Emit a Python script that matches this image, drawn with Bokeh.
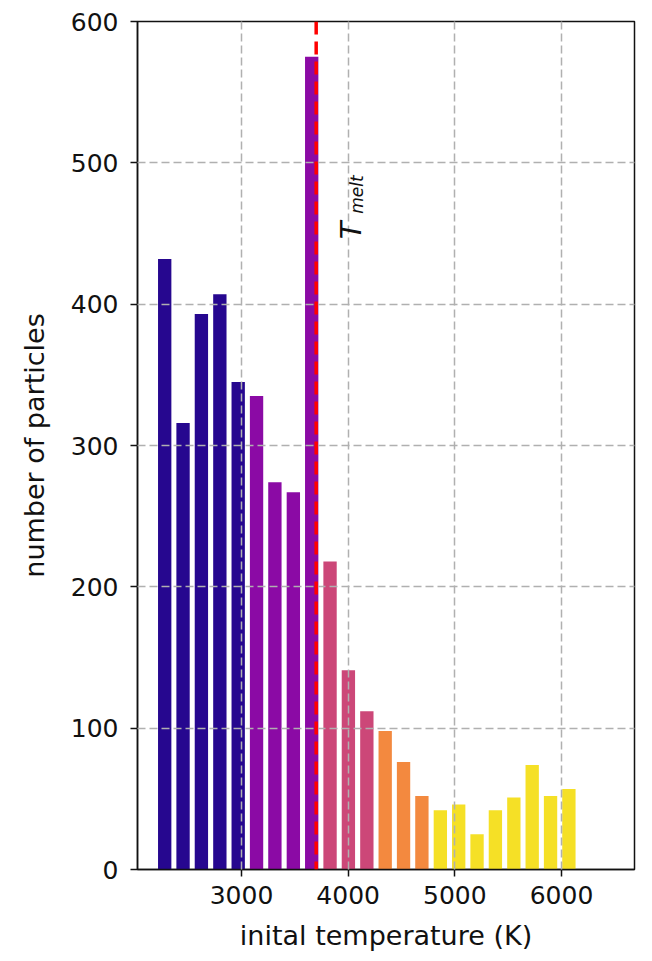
import math
from bokeh.plotting import figure
from bokeh.models import Span, Label, FixedTicker, ColumnDataSource, Range1d
from bokeh.embed import file_html
from bokeh.resources import INLINE

# ---- data ----
bin_centers = [2280, 2452, 2624, 2797, 2969, 3141, 3313, 3486, 3658, 3830, 4002, 4175,
               4347, 4519, 4691, 4864, 5036, 5208, 5380, 5553, 5725, 5897, 6069]
counts = [432, 316, 393, 407, 345, 335, 274, 267, 575, 218, 141, 112,
          98, 76, 52, 42, 46, 25, 42, 51, 74, 52, 57]
color_group = [0, 0, 0, 0, 0, 1, 1, 1, 1, 2, 2, 2, 3, 3, 3, 4, 4, 4, 4, 4, 4, 4, 4]
palette = ["#26078f", "#8b0aa5", "#cc4778", "#f3893f", "#f5e026"]
x_ticks = [3000, 4000, 5000, 6000]
y_ticks = [0, 100, 200, 300, 400, 500, 600]
t_melt = 3700

src = ColumnDataSource(dict(x=bin_centers, top=counts,
                            color=[palette[g] for g in color_group]))

p = figure(width=644, height=953, output_backend="svg", toolbar_location=None,
           x_range=Range1d(2025, 6684), y_range=Range1d(0, 600),
           min_border_left=137, min_border_right=10, min_border_top=21,
           min_border_bottom=83)

p.vbar(x="x", top="top", bottom=0, width=125, fill_color="color",
       line_color=None, source=src)

# grid
p.grid.level = "guide"
p.grid.grid_line_color = "#b0b0b0"
p.grid.grid_line_width = 1.5
p.grid.grid_line_dash = "8 4"

# axes
p.xaxis.ticker = FixedTicker(ticks=x_ticks)
p.yaxis.ticker = FixedTicker(ticks=y_ticks)
for ax in (p.xaxis[0], p.yaxis[0]):
    ax.axis_line_color = "#111111"
    ax.axis_line_width = 1.5
    ax.major_tick_line_color = "#111111"
    ax.major_tick_line_width = 1.5
    ax.major_tick_in = 0
    ax.major_tick_out = 7
    ax.minor_tick_line_color = None
    ax.major_label_text_font = "DejaVu Sans"
    ax.major_label_text_font_size = "25px"
    ax.major_label_text_color = "#111111"
    ax.axis_label_text_font = "DejaVu Sans"
    ax.axis_label_text_font_size = "27px"
    ax.axis_label_text_font_style = "normal"
    ax.axis_label_text_color = "#111111"

p.xaxis.axis_label = "inital temperature (K)"
p.yaxis.axis_label = "number of particles"
p.xaxis.major_label_standoff = 9
p.xaxis.axis_label_standoff = 13
p.yaxis.major_label_standoff = 12
p.yaxis.axis_label_standoff = 18

p.outline_line_color = "#111111"
p.outline_line_width = 1.5
p.outline_line_alpha = 1.0

# melting temperature marker
p.add_layout(Span(location=t_melt, dimension="height", line_color="red",
                  line_width=3.5, line_dash="13 7", level="overlay"))
p.add_layout(Label(x=4022, y=446, text="T", angle=math.pi / 2,
                   text_font="DejaVu Sans", text_font_style="italic",
                   text_font_size="29px", text_color="#111111",
                   text_baseline="alphabetic", text_align="left"))
p.add_layout(Label(x=4087, y=464, text="melt", angle=math.pi / 2,
                   text_font="DejaVu Sans", text_font_style="italic",
                   text_font_size="17px", text_color="#111111",
                   text_baseline="alphabetic", text_align="left"))

open("out.html", "w").write(file_html(p, INLINE))
